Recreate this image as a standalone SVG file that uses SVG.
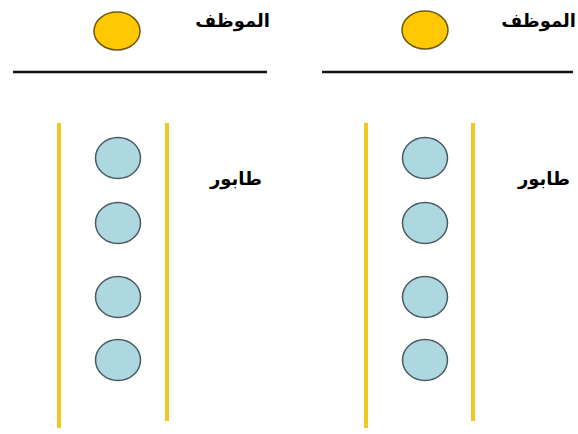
<svg xmlns="http://www.w3.org/2000/svg" width="578" height="434" viewBox="0 0 578 434">
<style>
.bg{fill:#ffffff}
.clerk{fill:#ffc800;stroke:#6b5a10;stroke-width:1.5}
.cust{fill:#aed8e0;stroke:#4a5a60;stroke-width:1.5}
.counter{stroke:#111;stroke-width:2.5}
.wall{stroke:#f2c625;stroke-width:4}
.lbl{font-family:"Liberation Sans","DejaVu Sans",sans-serif;font-weight:bold;font-size:18px;fill:#000}
</style>
<rect class="bg" x="0" y="0" width="578" height="434"/>
<g id="panel-left">
  <g id="clerk-left"><ellipse class="clerk" cx="117" cy="31" rx="23" ry="19"/></g>
  <text id="label-clerk-left" class="lbl" x="270" y="27" text-anchor="end">الموظف</text>
  <line id="counter-left" class="counter" x1="13" y1="72" x2="267" y2="72"/>
  <line id="wall-left-1" class="wall" x1="59" y1="123" x2="59" y2="428"/>
  <line id="wall-left-2" class="wall" x1="167" y1="123" x2="167" y2="421"/>
  <g id="queue-left">
    <ellipse class="cust" cx="118" cy="158" rx="22.5" ry="20.5"/>
    <ellipse class="cust" cx="118" cy="223" rx="22.5" ry="20.5"/>
    <ellipse class="cust" cx="118" cy="297" rx="22.5" ry="20.5"/>
    <ellipse class="cust" cx="118" cy="360" rx="22.5" ry="20.5"/>
  </g>
  <text id="label-queue-left" class="lbl" x="262" y="185" text-anchor="end">طابور</text>
</g>
<g id="panel-right">
  <g id="clerk-right"><ellipse class="clerk" cx="425" cy="30" rx="23" ry="19"/></g>
  <text id="label-clerk-right" class="lbl" x="576" y="27" text-anchor="end">الموظف</text>
  <line id="counter-right" class="counter" x1="322" y1="72" x2="573" y2="72"/>
  <line id="wall-right-1" class="wall" x1="366" y1="123" x2="366" y2="428"/>
  <line id="wall-right-2" class="wall" x1="473" y1="123" x2="473" y2="421"/>
  <g id="queue-right">
    <ellipse class="cust" cx="425" cy="158" rx="22.5" ry="20.5"/>
    <ellipse class="cust" cx="425" cy="223" rx="22.5" ry="20.5"/>
    <ellipse class="cust" cx="425" cy="297" rx="22.5" ry="20.5"/>
    <ellipse class="cust" cx="425" cy="360" rx="22.5" ry="20.5"/>
  </g>
  <text id="label-queue-right" class="lbl" x="570" y="185" text-anchor="end">طابور</text>
</g>
<g id="connectors"/>
</svg>
